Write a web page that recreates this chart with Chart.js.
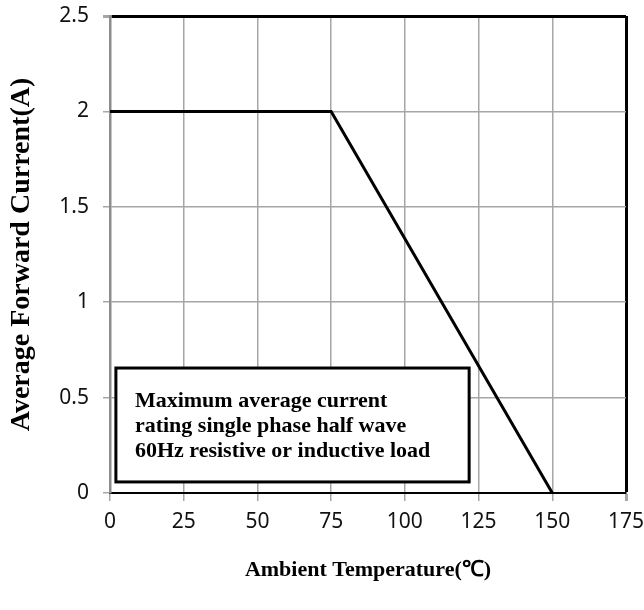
<!DOCTYPE html>
<html>
<head>
<meta charset="utf-8">
<script src="https://cdn.jsdelivr.net/npm/chart.js@4/dist/chart.umd.min.js"></script>
<style>
  html, body { margin: 0; padding: 0; background: #fff; }
  #wrap { width: 644px; height: 610px; }
</style>
</head>
<body>
<div id="wrap"><canvas id="derating"></canvas></div>
<script>
// derating curve
var tempC = [0, 75, 150];
var currentA = [2, 2, 0];
var xTicks = [0, 25, 50, 75, 100, 125, 150, 175];
var yTicks = [0, 0.5, 1, 1.5, 2, 2.5];
var noteLines = ['Maximum average current', 'rating single phase half wave', '60Hz resistive or inductive load'];

var points = [];
for (var i = 0; i < tempC.length; i++) {
    points.push({ x: tempC[i], y: currentA[i] });
}

var serif = '"Liberation Serif", "Times New Roman", serif';
var sans = '"Noto Sans", "Open Sans", sans-serif';

// the text box in the lower left corner
var noteBox = {
    id: 'noteBox',
    afterDatasetsDraw: function (chart) {
        var ctx = chart.ctx;
        var xs = chart.scales.x, ys = chart.scales.y;
        var l = xs.getPixelForValue(2.0), r = xs.getPixelForValue(121.8);
        var t = ys.getPixelForValue(0.655), b = ys.getPixelForValue(0.058);
        ctx.save();
        ctx.fillStyle = '#fff';
        ctx.fillRect(l, t, r - l, b - t);
        ctx.strokeStyle = '#000';
        ctx.lineWidth = 3;
        ctx.strokeRect(l, t, r - l, b - t);
        ctx.fillStyle = '#000';
        ctx.font = 'bold 22px ' + serif;
        ctx.textBaseline = 'alphabetic';
        for (var k = 0; k < noteLines.length; k++) {
            ctx.fillText(noteLines[k], l + 19, t + 39 + k * 25);
        }
        ctx.restore();
    }
};

var Dchart = new Chart(document.getElementById('derating'), {
    type: 'line',
    data: {
        datasets: [{
            data: points,
            borderColor: '#000',
            borderWidth: 3,
            pointRadius: 0,
            tension: 0,
            fill: false
        }]
    },
    options: {
        responsive: true,
        maintainAspectRatio: false,
        animation: false,
        layout: { padding: { top: 16, right: 18, left: 0, bottom: 0 } },
        plugins: { legend: { display: false }, tooltip: { enabled: false } },
        scales: {
            x: {
                type: 'linear',
                min: 0, max: 175,
                afterBuildTicks: function (s) { s.ticks = xTicks.map(function (v) { return { value: v }; }); },
                afterFit: function (s) { s.height = 117; s.paddingLeft = 0; s.paddingRight = 0; },
                grid: {
                    color: function (c) { return c.tick && c.tick.value === 175 ? '#000' : '#a6a6a6'; },
                    lineWidth: function (c) { return c.tick && c.tick.value === 175 ? 3 : 1.5; },
                    tickLength: 8,
                    tickColor: '#a6a6a6'
                },
                border: { color: '#000', width: 2 },
                ticks: {
                    color: '#111',
                    padding: 8,
                    maxRotation: 0,
                    font: { family: sans, size: 21 }
                },
                title: {
                    display: true,
                    text: 'Ambient Temperature(\u2103)',
                    color: '#000',
                    padding: { top: 0, bottom: 26 },
                    font: { family: serif, size: 22, weight: 'bold' }
                }
            },
            y: {
                min: 0, max: 2.5,
                afterBuildTicks: function (s) { s.ticks = yTicks.map(function (v) { return { value: v }; }); },
                afterFit: function (s) { s.width = 110; s.paddingTop = 0; s.paddingBottom = 0; },
                grid: {
                    color: function (c) { return c.tick && c.tick.value === 2.5 ? '#000' : '#a6a6a6'; },
                    lineWidth: function (c) { return c.tick && c.tick.value === 2.5 ? 3 : 1.5; },
                    tickLength: 7,
                    tickColor: '#a6a6a6'
                },
                border: { color: '#8c8c8c', width: 2.5 },
                ticks: {
                    color: '#111',
                    padding: 14,
                    font: { family: sans, size: 21 },
                    callback: function (v) { return String(v); }
                },
                title: {
                    display: true,
                    text: 'Average Forward Current(A)',
                    color: '#000',
                    padding: { top: 5, bottom: 0 },
                    font: { family: serif, size: 28, weight: 'bold' }
                }
            }
        }
    },
    plugins: [noteBox]
});
</script>
</body>
</html>
